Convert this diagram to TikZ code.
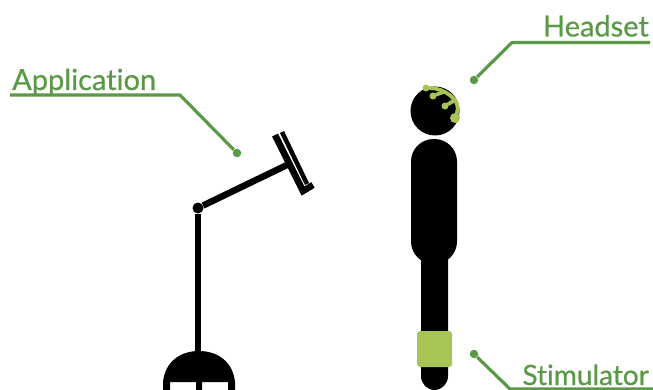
\documentclass[tikz,border=0pt]{standalone}
\usepackage{fontspec}
\setmainfont{Lato}
\newfontfamily\labelfont[Ligatures=CommonOff,FakeBold=0.6]{Lato}
\definecolor{calloutgreen}{HTML}{5A9A46}
\definecolor{limegreen}{HTML}{A6C556}
\tikzset{
    callout/.style={draw=calloutgreen,line width=3.2pt,line join=round},
    dotmark/.style={circle,fill=calloutgreen,inner sep=0pt,minimum size=8.5pt},
    labeltext/.style={text=calloutgreen,font=\labelfont\fontsize{29}{29}\selectfont,inner sep=0pt},
    standline/.style={draw=black,line width=6.5pt},
    wire/.style={draw=limegreen,line width=3.8pt,line cap=round},
    wiredot/.style={circle,fill=limegreen,inner sep=0pt,minimum size=7pt}
}
\begin{document}
\begin{tikzpicture}[x=1pt,y=-1pt]
    \useasboundingbox (0,0) rectangle (653,390);
    % Draw stand
    \node[circle,fill=black,inner sep=0pt,minimum size=11pt] (joint) at (198,208) {};
    \coordinate (poleEnd) at (198,355);
    \coordinate (armEnd) at (287,165);
    \draw[standline] (joint) -- (poleEnd);
    \draw[standline] (joint) -- (armEnd);
    % Draw screen
    \draw[standline] (275,135) -- (303,191) -- (313,185);
    \draw[draw=black,line width=4.5pt] (282,132) -- (307,184);
    % Draw base
    \fill[black] (163,390) -- (163,382) .. controls (165,362) and (180,351) .. (199,351)
        .. controls (218,351) and (233,362) .. (235,382) -- (235,390) -- (228,390) -- (228,382)
        -- (202,382) -- (202,390) -- (196,390) -- (196,382) -- (170,382) -- (170,390) -- cycle;
    % Draw person
    \fill[black] (435,111) circle (24.5);
    \fill[black,rounded corners=22.5pt] (411,139) rectangle (457,264);
    \fill[black] (421,250) -- (421,376) arc[start angle=180,end angle=360,x radius=13.5,y radius=-14] -- (448,250) -- cycle;
    % Draw stimulator
    \fill[limegreen,rounded corners=3pt] (417,331) rectangle (452,367);
    % Draw headset
    \node[wiredot] (wireA) at (426,88) {};
    \node[wiredot] (wireB) at (433,96) {};
    \node[wiredot] (wireC) at (445,106) {};
    \node[wiredot,minimum size=10pt] (wireD) at (455,118) {};
    \coordinate (wireBTop) at (443,92);
    \coordinate (wireCTop) at (455,100);
    \draw[wire] (wireA) .. controls (444,88) and (462,100) .. (wireD);
    \draw[wire] (wireB) -- (wireBTop);
    \draw[wire] (wireC) -- (wireCTop);
    % Draw callouts
    \node[labeltext,anchor=base east] (headset) at (649,36.5) {Headset};
    \coordinate (headsetEnd) at (650,42.5);
    \coordinate (headsetBend) at (512,42.5);
    \node[dotmark] (headsetDot) at (474,80) {};
    \draw[callout] (headsetEnd) -- (headsetBend) -- (headsetDot);

    \node[labeltext,anchor=base west] (application) at (12,90) {Application};
    \coordinate (applicationEnd) at (10,95);
    \coordinate (applicationBend) at (180,95);
    \node[dotmark] (applicationDot) at (237,153) {};
    \draw[callout] (applicationEnd) -- (applicationBend) -- (applicationDot);

    \node[labeltext,anchor=base east,font=\labelfont\fontsize{28}{28}\selectfont] (stimulator) at (649,385) {Stimulator};
    \coordinate (stimulatorEnd) at (653,389);
    \coordinate (stimulatorBend) at (510,389);
    \node[dotmark] (stimulatorDot) at (474,354) {};
    \draw[callout] (stimulatorEnd) -- (stimulatorBend) -- (stimulatorDot);
\end{tikzpicture}
\end{document}
